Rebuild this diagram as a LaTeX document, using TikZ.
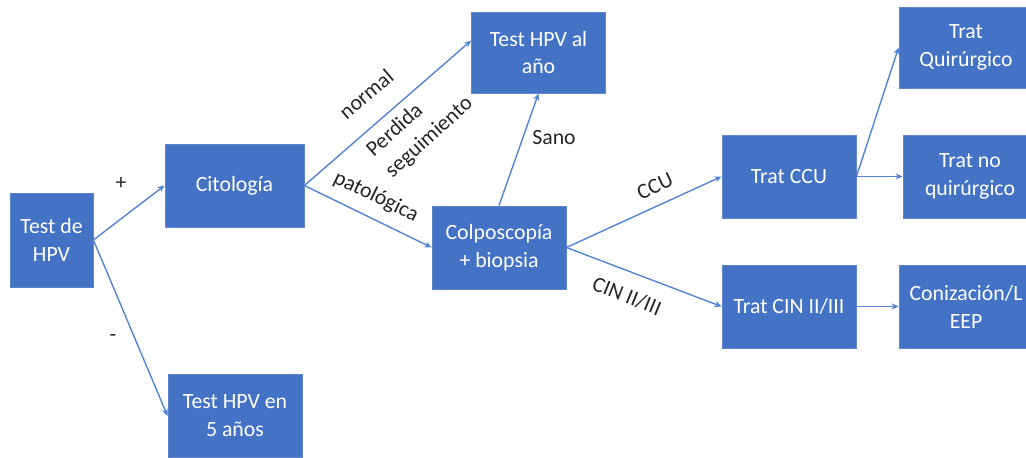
\documentclass[tikz,border=0pt]{standalone}
\usepackage{fontspec}
\setmainfont{Carlito}
\usepackage{tikz}
\usetikzlibrary{arrows.meta, positioning}
\definecolor{boxblue}{RGB}{68, 114, 196}
\definecolor{linkblue}{RGB}{86, 132, 212}

\begin{document}
\begin{tikzpicture}[x=0.02cm, y=-0.02cm, >={Stealth[length=4pt, width=3.5pt]},
    font=\fontsize{12.4}{15.9}\selectfont,
    box/.style={draw=boxblue!85!white, line width=0.5pt, fill=boxblue,
                text=white, align=center, inner sep=2pt,
                minimum width=2.68cm, minimum height=1.66cm},
    link/.style={->, draw=linkblue, line width=0.8pt},
    lbl/.style={text=black!85, inner sep=1pt}]
  \useasboundingbox (0, 0) rectangle (1026, 457);
  \clip (0, 0) rectangle (1026, 457);
  \fill[white] (0, 0) rectangle (1026, 457);

  \node[box, minimum width=1.66cm, minimum height=1.88cm] (hpv) at (51.5, 240) {Test de\\HPV};
  \node[box, minimum width=2.78cm] (cito) at (234.5, 185.5) {Citología};
  \node[box, minimum height=1.62cm] (anio) at (538.5, 52.5) {Test HPV al\\año};
  \node[box] (colpo) at (499, 247.5) {Colposcopía\\+ biopsia};
  \node[box] (cinco) at (235, 416) {Test HPV en\\5 años};
  \node[box] (ccu) at (789, 176.5) {Trat CCU};
  \node[box] (cin) at (789, 306.5) {Trat CIN II/III};
  \node[box, minimum height=1.62cm] (quir) at (966, 47.5) {Trat\\Quirúrgico};
  \node[box] (noquir) at (970, 176.5) {Trat no\\quirúrgico};
  \node[box] (coniz) at (966, 306.5) {Conización/L\\EEP};

  \draw[link] (hpv.east) -- (cito.west);
  \draw[link] (hpv.east) -- (cinco.west);
  \draw[link] (cito.east) -- (anio.170);
  \draw[link] (cito.east) -- (colpo.west);
  \draw[link] (colpo.north) -- (anio.south);
  \draw[link] (colpo.east) -- (ccu.west);
  \draw[link] (colpo.east) -- (cin.west);
  \draw[link] (ccu.east) -- (quir.west);
  \draw[link] (ccu.east) -- (noquir.west);
  \draw[link] (cin.east) -- (coniz.west);

  % etiquetas de las ramas
  \node[lbl] (mas) at (121, 184) {+};
  \node[lbl] (menos) at (113, 338) {-};
  \node[lbl, rotate=40] (normal) at (366, 94) {normal};
  \node[lbl, rotate=42, align=left] (perdida) at (420, 127) {Perdida\\seguimiento};
  \node[lbl, rotate=-26] (pato) at (376, 197) {patológica};
  \node[lbl] (sano) at (554, 138) {Sano};
  \node[lbl, rotate=25] (lccu) at (655, 186) {CCU};
  \node[lbl, rotate=-22] (lcin) at (627, 296) {CIN II/III};
\end{tikzpicture}
\end{document}
